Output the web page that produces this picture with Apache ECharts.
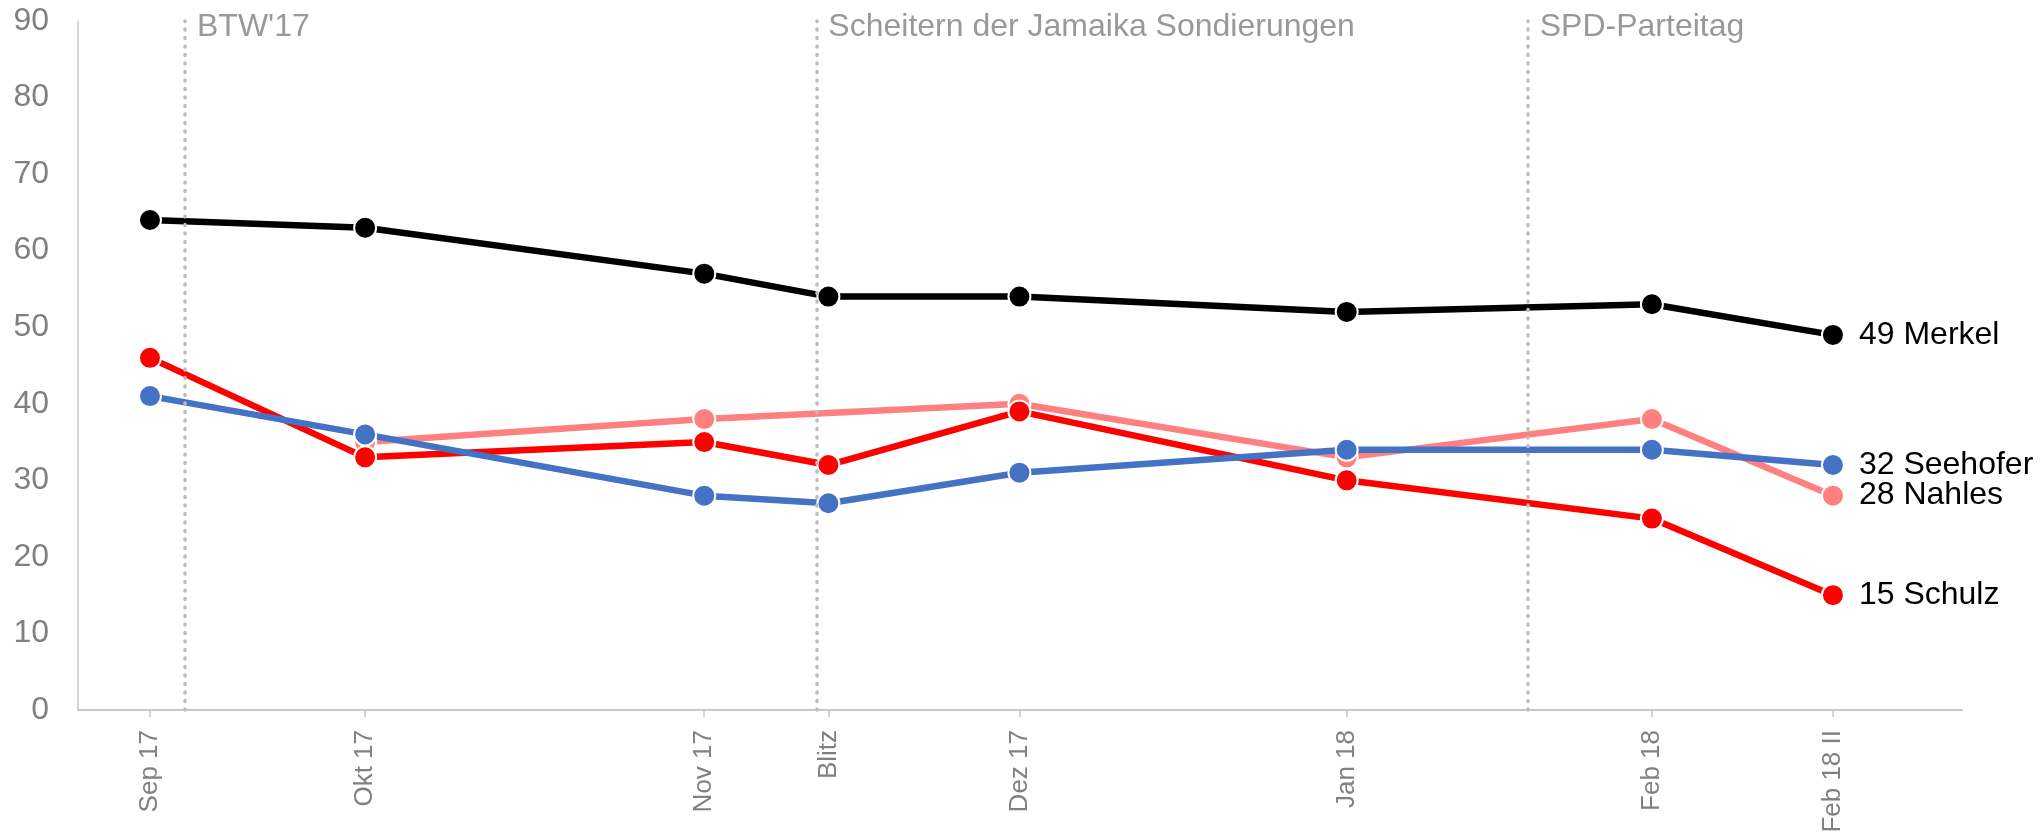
<!DOCTYPE html>
<html lang="de">

<head>
    <meta charset="UTF-8">
    <title>Kanzler-Kandidaten Zustimmung</title>
    <style>
        html, body { margin: 0; padding: 0; background: #fff; }
        .show { width: 2044px; height: 838px; }
    </style>
</head>

<body>
    <div class="show"></div>
    <script src="https://cdn.jsdelivr.net/npm/echarts@6/dist/echarts.min.js"></script>
    <script>
        // Erhebungen (x-Position auf einer Zeitachse, 0..100)
        const periods = ['Sep 17', 'Okt 17', 'Nov 17', 'Blitz', 'Dez 17', 'Jan 18', 'Feb 18', 'Feb 18 II']
        const periodPos = [3.82, 15.24, 33.24, 39.83, 49.97, 67.34, 83.54, 93.15]

        // Ereignisse (gepunktete Linien)
        const events = ["BTW'17", 'Scheitern der Jamaika Sondierungen', 'SPD-Parteitag']
        const eventPos = [5.68, 39.19, 76.95]

        // Werte je Person
        const merkel = [64, 63, 57, 54, 54, 52, 53, 49]
        const schulz = [46, 33, 35, 32, 39, 30, 25, 15]
        const seehofer = [41, 36, 28, 27, 31, 34, 34, 32]
        const nahles = [null, 35, 38, null, 40, 33, 38, 28]

        const yTicks = [0, 10, 20, 30, 40, 50, 60, 70, 80, 90]

        const FONT = '"Liberation Sans", Arial, sans-serif'

        const toPairs = (vals) => vals
            .map((v, i) => [periodPos[i], v])
            .filter(p => p[1] !== null)

        const makeLine = (name, vals, color) => ({
            name: name,
            type: 'line',
            data: toPairs(vals),
            symbol: 'circle',
            symbolSize: 22,
            lineStyle: { color: color, width: 6.5 },
            itemStyle: { color: color, borderColor: '#fff', borderWidth: 2 },
            endLabel: {
                show: true,
                distance: 26,
                color: '#000',
                fontFamily: FONT,
                fontSize: 32,
                formatter: p => p.value[1] + ' ' + p.seriesName
            }
        })

        const myChart = echarts.init(document.querySelector('.show'), null, { renderer: 'canvas' })

        const option = {
            animation: false,
            grid: {
                left: 78,
                right: 82,
                top: 21,
                bottom: 128,
                containLabel: false,
                outerBoundsMode: 'none'
            },
            xAxis: {
                type: 'value',
                min: 0,
                max: 100,
                splitLine: { show: false },
                axisLine: { lineStyle: { color: '#c8c8c8', width: 2 } },
                axisTick: {
                    show: true,
                    customValues: periodPos,
                    length: 7,
                    lineStyle: { color: '#c8c8c8', width: 1.5 }
                },
                axisLabel: {
                    customValues: periodPos,
                    rotate: 90,
                    margin: 20,
                    color: '#808080',
                    fontFamily: FONT,
                    fontSize: 26,
                    formatter: v => periods[periodPos.indexOf(v)] || ''
                }
            },
            yAxis: {
                type: 'value',
                min: 0,
                max: 90,
                interval: 10,
                splitLine: { show: false },
                axisLine: { show: true, lineStyle: { color: '#c8c8c8', width: 1.5 } },
                axisTick: { show: false },
                axisLabel: {
                    margin: 29,
                    color: '#808080',
                    fontFamily: FONT,
                    fontSize: 32,
                    formatter: v => yTicks.includes(v) ? String(v) : ''
                }
            },
            series: [
                {
                    name: 'events',
                    type: 'scatter',
                    silent: true,
                    symbolSize: 0,
                    data: eventPos.map((x, i) => ({ value: [x, 90], name: events[i] })),
                    label: {
                        show: true,
                        position: 'right',
                        distance: 12,
                        offset: [0, 6],
                        color: '#808080',
                        fontFamily: FONT,
                        fontSize: 32,
                        formatter: p => p.name
                    },
                    markLine: {
                        silent: true,
                        symbol: 'none',
                        label: { show: false },
                        lineStyle: { color: '#bdbdbd', width: 3.5, type: [1, 7.5], cap: 'round' },
                        data: eventPos.map(x => ({ xAxis: x }))
                    }
                },
                makeLine('Nahles', nahles, '#ff8080'),
                makeLine('Schulz', schulz, '#ff0000'),
                makeLine('Seehofer', seehofer, '#4472c4'),
                makeLine('Merkel', merkel, '#000000')
            ]
        }

        myChart.setOption(option)
    </script>
</body>

</html>
